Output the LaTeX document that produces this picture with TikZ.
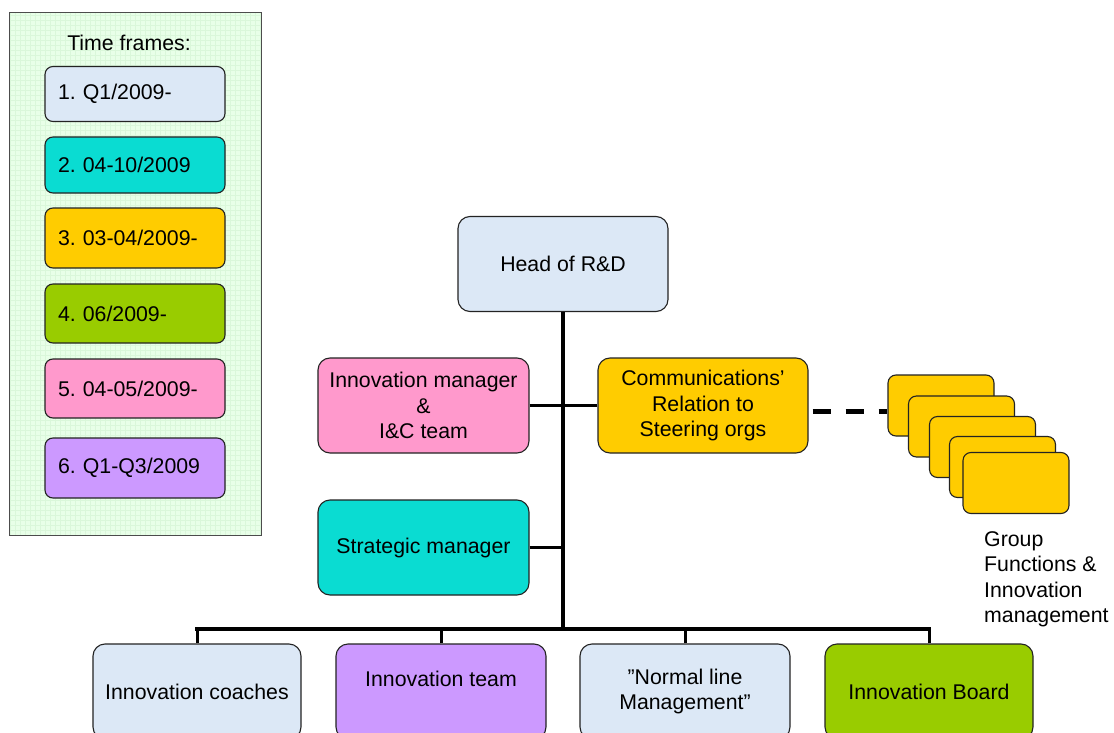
\documentclass[tikz,border=0pt]{standalone}
\usepackage{fontspec}
\setmainfont{Liberation Sans}
\frenchspacing
\definecolor{paleblue}{RGB}{220,232,246}
\definecolor{tealfill}{RGB}{10,220,210}
\definecolor{goldfill}{RGB}{255,204,0}
\definecolor{limefill}{RGB}{153,204,0}
\definecolor{pinkfill}{RGB}{255,153,204}
\definecolor{lilacfill}{RGB}{204,153,255}
\definecolor{legendbg}{RGB}{232,255,232}
\definecolor{legendgrid}{RGB}{218,247,218}
\definecolor{edge}{RGB}{35,35,35}
\begin{document}
\begin{tikzpicture}[x=1pt,y=-1pt,
  every node/.style={font=\fontsize{21.3}{25.5}\selectfont},
  box/.style={draw=edge, line width=1.1pt, rounded corners=12pt,
    minimum width=210pt, minimum height=95pt, inner sep=0pt, align=center},
  key/.style={draw=edge, line width=1.1pt, rounded corners=8pt,
    minimum width=180pt, inner xsep=13pt, inner ysep=0pt,
    text width=154pt, align=left},
  stackbox/.style={draw=edge, line width=1.1pt, rounded corners=8pt,
    fill=goldfill, minimum width=106pt, minimum height=61pt, inner sep=0pt},
  trunk/.style={line width=4pt},
  branch/.style={line width=3pt},
  link/.style={line width=5pt, dash pattern=on 18pt off 15pt}
]
\clip (0,0) rectangle (1114,733);
\fill[white] (0,0) rectangle (1114,733);

% legend panel with a faint grid texture
\fill[legendbg] (9,13) rectangle (261,535);
\begin{scope}
  \clip (9,13) rectangle (261,535);
  \draw[legendgrid, line width=0.4pt, step=5pt] (9,13) grid (261,535);
\end{scope}
\draw[black!70, line width=1pt] (9,13) rectangle (261,535);
\node (ttl) at (129,43) {Time frames:};
\node[key, fill=paleblue,  minimum height=55pt] (k1) at (135,94)    {1. Q1/2009-};
\node[key, fill=tealfill,  minimum height=56pt] (k2) at (135,165)   {2. 04-10/2009};
\node[key, fill=goldfill,  minimum height=60pt] (k3) at (135,238)   {3. 03-04/2009-};
\node[key, fill=limefill,  minimum height=59pt] (k4) at (135,313.5) {4. 06/2009-};
\node[key, fill=pinkfill,  minimum height=59pt] (k5) at (135,388.5) {5. 04-05/2009-};
\node[key, fill=lilacfill, minimum height=60pt] (k6) at (135,468)   {6. Q1-Q3/2009};

% organisation chart
\node[box, fill=paleblue] (head) at (563,264) {Head of R\&D};
\node[box, fill=pinkfill, minimum width=211pt] (innov) at (423.5,405.5)
  {Innovation manager\\\&\\I\&C team};
\node[box, fill=goldfill] (comm) at (703,405.5)
  {Communications’\\Relation to\\Steering orgs};
\node[box, fill=tealfill, minimum width=211pt] (strat) at (423.5,547.5)
  {Strategic manager};

\node[box, fill=paleblue, minimum width=208pt] (coach) at (197,691.5) {Innovation coaches};
\node[box, fill=lilacfill] (team) at (441,691.5) {Innovation team\\\mbox{}};
\node[box, fill=paleblue] (normal) at (685,691.5) {”Normal line\\Management”};
\node[box, fill=limefill, minimum width=208pt] (board) at (929,691.5) {Innovation Board};

% stacked group-function boxes
\node[stackbox] (s1) at (941,405.5) {};
\node[stackbox] (s2) at (961.5,426.5) {};
\node[stackbox] (s3) at (982.5,447) {};
\node[stackbox] (s4) at (1002.5,467) {};
\node[stackbox] (s5) at (1016,483) {};
\node[anchor=north west, align=left, inner sep=0pt] (grp) at (984,531)
  {Group\\Functions \&\\Innovation\\management};

% connectors
\coordinate (hub) at (563,629);
\draw[trunk] (head.south) -- (hub);
\draw[branch] (innov.east) -- (innov.east -| head.south);
\draw[branch] (comm.west) -- (comm.west -| head.south);
\draw[branch] (strat.east) -- (strat.east -| head.south);
\draw[trunk, line cap=rect] (coach.north |- hub) -- (board.north |- hub);
\draw[branch] (coach.north) -- (coach.north |- hub);
\draw[branch] (team.north) -- (team.north |- hub);
\draw[branch] (normal.north) -- (normal.north |- hub);
\draw[branch] (board.north) -- (board.north |- hub);
\draw[link] ([xshift=4pt,yshift=-6pt]comm.east) -- ([yshift=-6pt]comm.east -| s1.west);
\end{tikzpicture}
\end{document}
